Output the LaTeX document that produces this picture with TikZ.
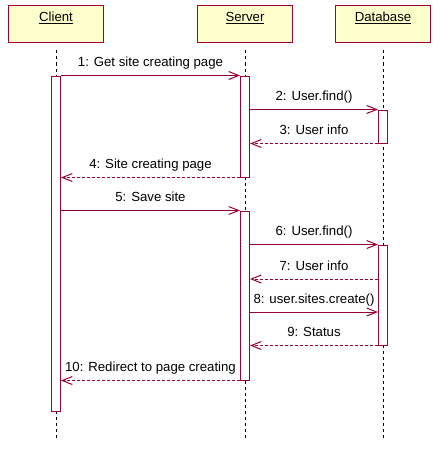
\documentclass[tikz,border=0pt]{standalone}
\usepackage{fontspec}
\setmainfont{Liberation Sans}
\usetikzlibrary{arrows.meta,calc}

\definecolor{umlred}{RGB}{153,0,51}
\definecolor{umlyellow}{RGB}{255,255,204}

\begin{document}
\begin{tikzpicture}[x=1pt, y=-1pt, font=\fontsize{13.2}{15}\selectfont,
    obj/.style={draw=umlred, fill=umlyellow, line width=1pt, minimum width=95pt, minimum height=37pt, inner sep=0pt},
    act/.style={draw=umlred, fill=white, line width=1pt, minimum width=9pt, inner sep=0pt},
    life/.style={line width=1pt, dash pattern=on 3pt off 3pt},
    msg/.style={draw=umlred, line width=1pt, -{Straight Barb[length=10pt,width=8pt]}},
    reply/.style={msg, dash pattern=on 3pt off 2pt},
    lbl/.style={midway, anchor=base, yshift=9pt, inner sep=0pt, text=black}]

    \useasboundingbox (0,0) rectangle (439,452);

    % Objects
    \node[obj, label={[anchor=base, yshift=-16pt]north:\underline{Client}}] (client) at (56,24.5) {};
    \node[obj, label={[anchor=base, yshift=-16pt]north:\underline{Server}}] (server) at (245,24.5) {};
    \node[obj, label={[anchor=base, yshift=-16pt]north:\underline{Database}}] (db) at (383,24.5) {};

    % Lifelines
    \coordinate (clientEnd) at (56,440);
    \coordinate (serverEnd) at (245,440);
    \coordinate (dbEnd) at (383,440);
    \draw[life] ($(client.south)+(0,7)$) -- (clientEnd);
    \draw[life] ($(server.south)+(0,7)$) -- (serverEnd);
    \draw[life] ($(db.south)+(0,7)$) -- (dbEnd);

    % Activations
    \node[act, minimum height=335pt] (clientAct) at (56,243.5) {};
    \node[act, minimum height=101pt] (serverActA) at (245,126.5) {};
    \node[act, minimum height=169pt] (serverActB) at (245,295.5) {};
    \node[act, minimum height=33pt] (dbActA) at (383,126.5) {};
    \node[act, minimum height=100pt] (dbActB) at (383,295) {};

    % Messages
    \coordinate (m7) at (0,279);
    \coordinate (m8) at (0,312);
    \draw[msg] (clientAct.east |- serverActA.north) -- (serverActA.north west) node[lbl] {1: Get site creating page};
    \draw[msg] (serverActA.east |- dbActA.north) -- (dbActA.north west) node[lbl] {2: User.find()};
    \draw[reply] (dbActA.south west) -- (serverActA.east |- dbActA.south) node[lbl] {3: User info};
    \draw[reply] (serverActA.south west) -- (clientAct.east |- serverActA.south) node[lbl] {4: Site creating page};
    \draw[msg] (clientAct.east |- serverActB.north) -- (serverActB.north west) node[lbl] {5: Save site};
    \draw[msg] (serverActB.east |- dbActB.north) -- (dbActB.north west) node[lbl] {6: User.find()};
    \draw[reply] (dbActB.west |- m7) -- (serverActB.east |- m7) node[lbl] {7: User info};
    \draw[msg] (serverActB.east |- m8) -- (dbActB.west |- m8) node[lbl] {8: user.sites.create()};
    \draw[reply] (dbActB.south west) -- (serverActB.east |- dbActB.south) node[lbl] {9: Status};
    \draw[reply] (serverActB.south west) -- (clientAct.east |- serverActB.south) node[lbl] {10: Redirect to page creating};

\end{tikzpicture}
\end{document}
